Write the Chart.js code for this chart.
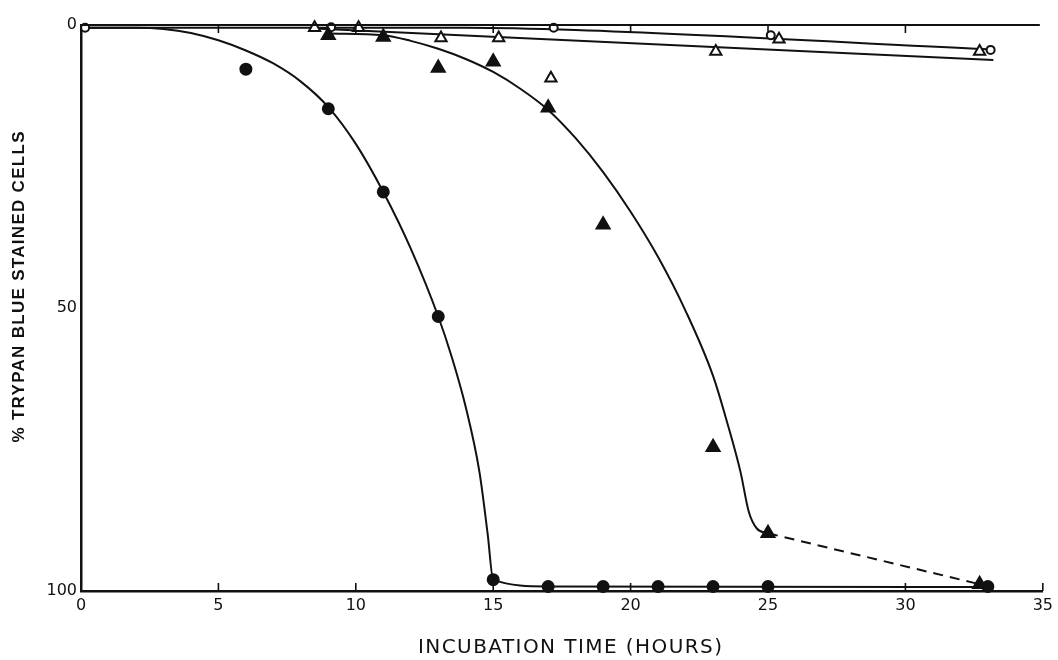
<!DOCTYPE html>
<html>
<head>
<meta charset="utf-8">
<script src="https://cdn.jsdelivr.net/npm/chart.js@4.4.0/dist/chart.umd.min.js"></script>
<style>
    html, body { margin: 0; padding: 0; background: #fff; }
</style>
</head>
<body>
<canvas id="trypanChart" width="1058" height="660"></canvas>
<script>
// Axis ticks
const xTicks = [0, 5, 10, 15, 20, 25, 30, 35];
const yTicks = [0, 50, 100];
const xTitle = 'INCUBATION TIME (HOURS)';
const yTitle = '% TRYPAN BLUE STAINED CELLS';

// Filled circles
const dotX = [6, 9, 11, 13, 15, 17, 19, 21, 23, 25, 33];
const dotY = [7.8, 14.8, 29.5, 51.5, 98, 99.2, 99.2, 99.2, 99.2, 99.2, 99.2];

// Filled triangles
const triX = [9, 11, 13, 15, 17, 19, 23, 25, 32.7];
const triY = [1.8, 2.1, 7.6, 6.5, 14.6, 35.3, 74.6, 89.8, 98.8];

// Open triangles
const openTriX = [8.5, 10.1, 13.1, 15.2, 17.1, 23.1, 25.4, 32.7];
const openTriY = [0.5, 0.5, 2.3, 2.3, 9.4, 4.7, 2.5, 4.7];

// Open circles
const openDotX = [0.15, 9.1, 17.2, 25.1, 33.1];
const openDotY = [0.5, 0.4, 0.5, 1.8, 4.4];

// Drawn curves
const curveAX = [0, 2, 3, 4, 5, 6, 7, 8, 9, 10, 11, 12, 13, 13.5, 14, 14.5, 14.8, 15, 17, 33];
const curveAY = [0.5, 0.5, 0.7, 1.4, 2.7, 4.5, 6.8, 10, 14.5, 21, 29.5, 39.5, 51.5, 58.8, 67.5, 79, 90, 98, 99.2, 99.3];
const curveBX = [9, 11, 12, 13, 14, 15, 16, 17, 18, 19, 20, 21, 22, 23, 23.5, 24, 24.3, 24.6, 25];
const curveBY = [1.5, 1.8, 2.8, 4.2, 6, 8.3, 11.3, 15, 20, 26, 33, 41, 50.5, 62, 70, 79, 86, 89, 89.8];
const dashBX = [25, 32.7];
const dashBY = [89.8, 98.8];
const openDotLineX = [0, 14, 18, 33];
const openDotLineY = [0.5, 0.5, 0.9, 4.3];
const openTriLineX = [8.5, 33.2];
const openTriLineY = [0.6, 6.2];

function pts(xs, ys) {
    return xs.map((x, i) => ({ x: x, y: ys[i] }));
}

function markers(xs, ys, style, radius, filled) {
    return {
        data: pts(xs, ys),
        showLine: false,
        pointStyle: style,
        pointRadius: radius,
        pointBorderWidth: 2,
        pointBorderColor: '#111',
        pointBackgroundColor: filled ? '#111' : '#fff',
        clip: false
    };
}

function curve(xs, ys, dash) {
    return {
        data: pts(xs, ys),
        showLine: true,
        borderColor: '#111',
        borderWidth: 2,
        borderDash: dash || [],
        pointRadius: 0,
        cubicInterpolationMode: 'monotone',
        clip: false
    };
}

// Draw frame top line, inner ticks and axis titles
function drawSpaced(ctx, text, cx, cy, width) {
    ctx.letterSpacing = '0px';
    const w = ctx.measureText(text).width;
    const gap = (width - w) / (text.length - 1);
    ctx.letterSpacing = gap + 'px';
    ctx.fillText(text, cx + gap / 2, cy);
}

const framePlugin = {
    id: 'framePlugin',
    afterDraw(chart) {
        const { ctx, chartArea: a, scales: { x } } = chart;
        ctx.save();
        ctx.strokeStyle = '#111';
        ctx.lineWidth = 2;
        ctx.beginPath();
        ctx.moveTo(a.left, a.top);
        ctx.lineTo(x.getPixelForValue(35) - 3, a.top);
        ctx.stroke();

        ctx.lineWidth = 1.6;
        xTicks.forEach(v => {
            const px = x.getPixelForValue(v);
            if (v > 0) {
                ctx.beginPath();
                ctx.moveTo(px, a.bottom);
                ctx.lineTo(px, a.bottom - 8);
                ctx.stroke();
            }
            if (v > 0 && v < 35) {
                ctx.beginPath();
                ctx.moveTo(px, a.top);
                ctx.lineTo(px, a.top + 8);
                ctx.stroke();
            }
        });

        ctx.fillStyle = '#111';
        ctx.textAlign = 'center';
        ctx.textBaseline = 'middle';
        ctx.font = '20px "DejaVu Sans"';
        drawSpaced(ctx, xTitle, 570, 648, 304);

        ctx.translate(19, 287);
        ctx.rotate(-Math.PI / 2);
        ctx.font = 'bold 17px "Liberation Sans"';
        drawSpaced(ctx, yTitle, 0, 0, 311);
        ctx.restore();
    }
};

const tickFont = { family: 'DejaVu Sans', size: 16 };

new Chart(document.getElementById('trypanChart'), {
    type: 'scatter',
    data: {
        datasets: [
            markers(dotX, dotY, 'circle', 5.5, true),
            markers(triX, triY, 'triangle', 7.5, true),
            markers(openTriX, openTriY, 'triangle', 6.5, false),
            markers(openDotX, openDotY, 'circle', 4, false),
            curve(curveAX, curveAY),
            curve(curveBX, curveBY),
            curve(dashBX, dashBY, [10, 7]),
            curve(openDotLineX, openDotLineY),
            curve(openTriLineX, openTriLineY)
        ]
    },
    options: {
        responsive: false,
        animation: false,
        events: [],
        layout: { padding: { top: 25, right: 10, left: 0, bottom: 0 } },
        plugins: {
            legend: { display: false },
            tooltip: { enabled: false }
        },
        scales: {
            x: {
                type: 'linear',
                min: 0,
                max: 35,
                afterBuildTicks: s => { s.ticks = xTicks.map(v => ({ value: v })); },
                afterFit: s => { s.height = 69; },
                grid: { display: false, drawTicks: false },
                border: { display: true, color: '#111', width: 2.5 },
                ticks: { color: '#111', font: tickFont, padding: 5, maxRotation: 0 }
            },
            y: {
                type: 'linear',
                min: 0,
                max: 100,
                reverse: true,
                afterBuildTicks: s => { s.ticks = yTicks.map(v => ({ value: v })); },
                afterFit: s => { s.width = 81; },
                grid: { display: false, drawTicks: false },
                border: { display: true, color: '#111', width: 2.5 },
                ticks: { color: '#111', font: tickFont, padding: 4 }
            }
        }
    },
    plugins: [framePlugin]
});
</script>
</body>
</html>
